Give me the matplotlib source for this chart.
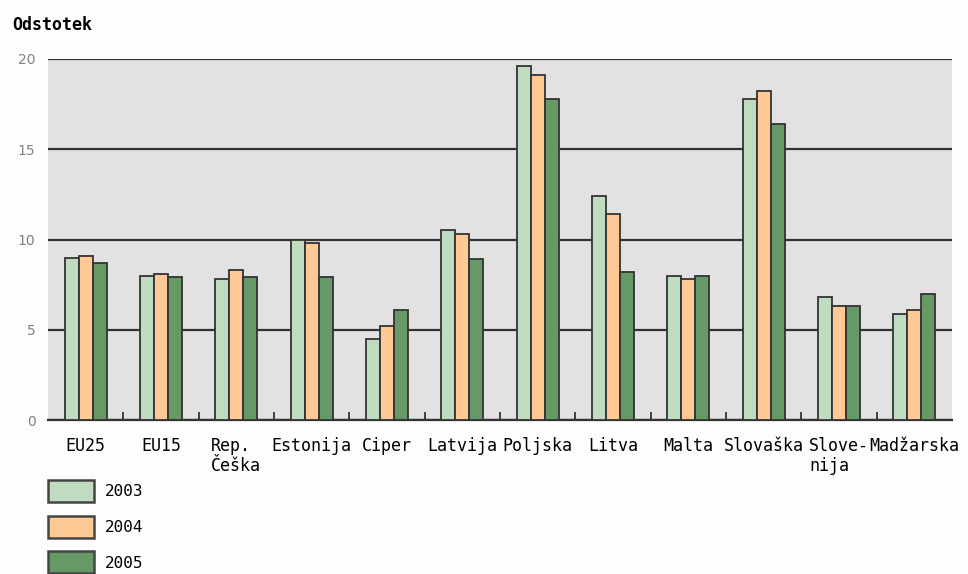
import numpy as np
import matplotlib
matplotlib.use("Agg")
import matplotlib.pyplot as plt

# Odstotek po državah, 2003-2005
drzave = ["EU25", "EU15", "Rep.\nČeška", "Estonija", "Ciper", "Latvija",
          "Poljska", "Litva", "Malta", "Slovaška", "Slove-\nnija", "Madžarska"]
leta = ["2003", "2004", "2005"]
v2003 = [9.0, 8.0, 7.8, 10.0, 4.5, 10.5, 19.6, 12.4, 8.0, 17.8, 6.8, 5.9]
v2004 = [9.1, 8.1, 8.3, 9.8, 5.2, 10.3, 19.1, 11.4, 7.8, 18.2, 6.3, 6.1]
v2005 = [8.7, 7.9, 7.9, 7.9, 6.1, 8.9, 17.8, 8.2, 8.0, 16.4, 6.3, 7.0]
barve = ["#c0dcc0", "#ffc996", "#669966"]

fig = plt.figure(figsize=(9.68, 5.74), dpi=100, facecolor="#fdfdfd")
ax = fig.add_axes([48 / 968, 154 / 574, 904 / 968, 361 / 574])
ax.set_facecolor("#e2e2e2")

x = np.arange(len(drzave)) + 0.5
w = 0.186
for i, (vals, c, leto) in enumerate(zip([v2003, v2004, v2005], barve, leta)):
    ax.bar(x + (i - 1) * w, vals, width=w, color=c, edgecolor="#333333",
           linewidth=1.3, label=leto, zorder=3)

ax.set_xlim(0, len(drzave))
ax.set_ylim(0, 20)
ax.set_yticks([0, 5, 10, 15, 20])
ax.yaxis.grid(True, color="#333333", linewidth=1.6, zorder=1)
ax.set_axisbelow(True)
for s in ["left", "right", "top"]:
    ax.spines[s].set_visible(False)
ax.spines["bottom"].set_color("#333333")
ax.spines["bottom"].set_linewidth(1.6)

ax.tick_params(axis="y", length=0, pad=9, labelsize=10, labelcolor="#808080")
ax.set_xticks(x)
ax.set_xticklabels(drzave, family="DejaVu Sans Mono", fontsize=12,
                   multialignment="left")
ax.set_xticks(np.arange(1, len(drzave)), minor=True)
ax.tick_params(axis="x", which="major", length=0, pad=12)
ax.tick_params(axis="x", which="minor", direction="in", length=6,
               width=1.3, color="#333333")

fig.text(12 / 968, 1 - 25 / 574, "Odstotek", family="DejaVu Sans Mono",
         fontsize=12, weight="bold", va="center", ha="left")

leg = ax.legend(loc="upper left", bbox_to_anchor=(48 / 968, 1 - 480 / 574),
                bbox_transform=fig.transFigure, frameon=False, borderpad=0,
                borderaxespad=0, handlelength=2.85, handleheight=1.75,
                handletextpad=0.7, labelspacing=0.85,
                prop={"family": "DejaVu Sans Mono", "size": 11.5})
for h in leg.legend_handles:
    h.set_edgecolor("#444444")
    h.set_linewidth(1.8)

fig.savefig("out.png", dpi=100, facecolor=fig.get_facecolor())
